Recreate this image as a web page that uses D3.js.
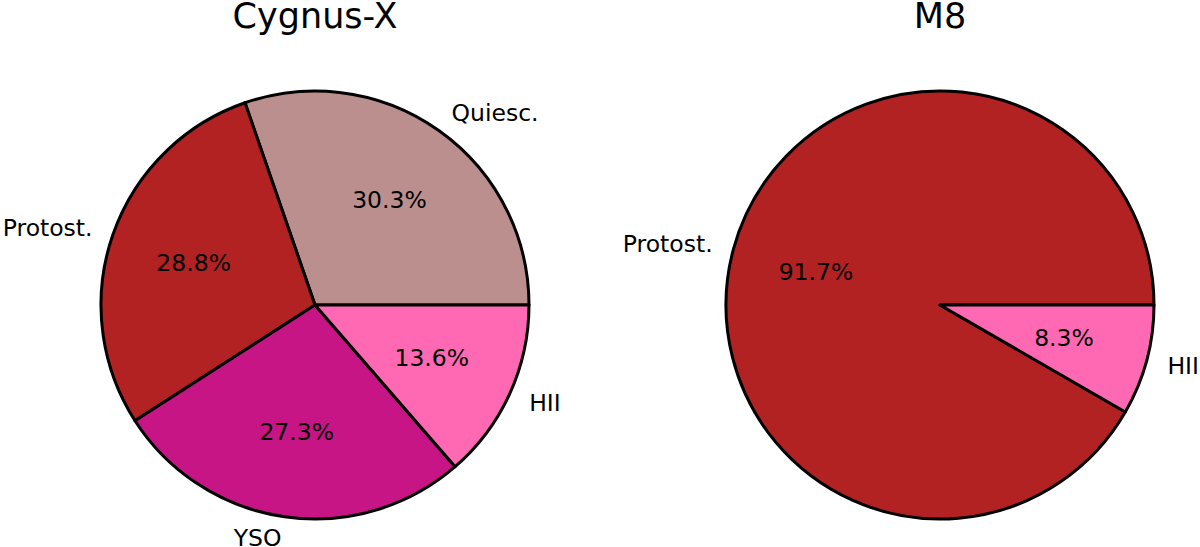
<!DOCTYPE html>
<html>
<head>
<meta charset="utf-8">
<script src="https://cdn.jsdelivr.net/npm/d3@7"></script>
<style>
  body { margin: 0; background: #fff; }
  text { font-family: "DejaVu Sans", sans-serif; fill: #000; }
</style>
</head>
<body>
<script>
// data: counts per class, read from the percentages
var cygLabels = ["Quiesc.", "Protost.", "YSO", "HII"];
var cygValues = [20, 19, 18, 9];
var cygColors = ["#bc8f8f", "#b22222", "#c71585", "#ff69b4"];

var m8Labels = ["Protost.", "HII"];
var m8Values = [11, 1];
var m8Colors = ["#b22222", "#ff69b4"];

var width = 1200, height = 547, radius = 214;

var svg = d3.select("body").append("svg")
    .attr("width", width)
    .attr("height", height);

// matplotlib style pie: starts at 3 o'clock, goes counterclockwise
var pie = d3.pie().sort(null)
    .startAngle(Math.PI / 2)
    .endAngle(Math.PI / 2 - 2 * Math.PI);

var arc = d3.arc().innerRadius(0).outerRadius(radius);

function drawPie(cx, cy, title, labels, values, colors) {
  var g = svg.append("g").attr("transform", "translate(" + cx + "," + cy + ")");
  var total = d3.sum(values);
  var data = pie(values);

  g.selectAll("path").data(data).enter()
    .append("path")
      .attr("d", arc)
      .attr("fill", function(d, i) { return colors[i]; })
      .attr("stroke", "#000")
      .attr("stroke-width", 3)
      .attr("stroke-linejoin", "round");

  function pos(d, k) {
    var a = (d.startAngle + d.endAngle) / 2;
    return [Math.sin(a) * radius * k, -Math.cos(a) * radius * k];
  }

  // percentages
  g.selectAll("text.pct").data(data).enter()
    .append("text")
      .attr("class", "pct")
      .attr("x", function(d) { return pos(d, 0.6)[0]; })
      .attr("y", function(d) { return pos(d, 0.6)[1]; })
      .attr("text-anchor", "middle")
      .attr("dominant-baseline", "central")
      .style("font-size", "23.5px")
      .text(function(d) { return (d.value / total * 100).toFixed(1) + "%"; });

  // category labels
  g.selectAll("text.lab").data(data).enter()
    .append("text")
      .attr("class", "lab")
      .attr("x", function(d) { return pos(d, 1.1)[0]; })
      .attr("y", function(d) { return pos(d, 1.1)[1]; })
      .attr("text-anchor", function(d) { return pos(d, 1.1)[0] > 0 ? "start" : "end"; })
      .attr("dominant-baseline", "central")
      .style("font-size", "23.5px")
      .text(function(d, i) { return labels[i]; });

  svg.append("text")
    .attr("x", cx)
    .attr("y", 28)
    .attr("text-anchor", "middle")
    .style("font-size", "35px")
    .text(title);
}

drawPie(315, 305, "Cygnus-X", cygLabels, cygValues, cygColors);
drawPie(940, 305, "M8", m8Labels, m8Values, m8Colors);
</script>
</body>
</html>
